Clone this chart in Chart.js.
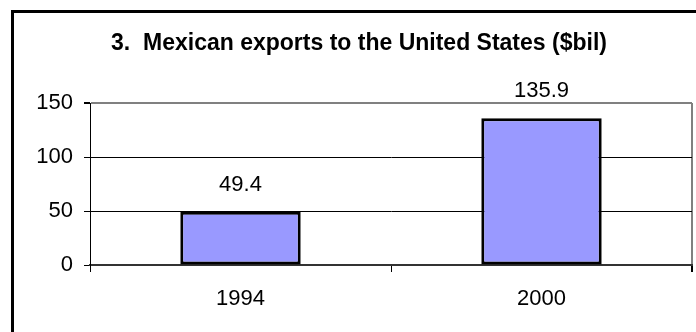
<!DOCTYPE html>
<html>
<head>
<meta charset="utf-8">
<script src="https://cdn.jsdelivr.net/npm/chart.js@4/dist/chart.umd.min.js"></script>
<style>
  html, body { margin: 0; padding: 0; background: #fff; }
  canvas { display: block; }
</style>
</head>
<body>
<canvas id="barChart" width="696" height="332"></canvas>
<script>
var years = ['1994', '2000']; // categories
var exports = [49.4, 135.9]; // Mexican exports, $bil
var yTicks = [0, 50, 100, 150];

var FONT = '"Liberation Sans", Arial, sans-serif';

// outer box around the whole chart
var framePlugin = {
  id: 'frame',
  beforeDraw: function (chart) {
    var ctx = chart.ctx;
    ctx.save();
    ctx.fillStyle = '#fff';
    ctx.fillRect(0, 0, chart.width, chart.height);
    ctx.strokeStyle = '#000';
    ctx.lineWidth = 3;
    ctx.strokeRect(12.5, 11.5, 720, 340);
    ctx.restore();
  }
};

// value above each bar
var valueLabels = {
  id: 'valueLabels',
  afterDatasetsDraw: function (chart) {
    var ctx = chart.ctx;
    var meta = chart.getDatasetMeta(0);
    ctx.save();
    ctx.font = '22px ' + FONT;
    ctx.fillStyle = '#000';
    ctx.textAlign = 'center';
    ctx.textBaseline = 'middle';
    meta.data.forEach(function (bar, i) {
      ctx.fillText(String(exports[i]), bar.x, bar.y - 27);
    });
    ctx.restore();
  }
};

var data = {
  labels: years,
  datasets: [{
    data: exports,
    backgroundColor: '#9999FF',
    borderColor: '#000',
    borderWidth: 3,
    borderSkipped: false,
    barPercentage: 0.4,
    categoryPercentage: 1
  }]
};

var options = {
  responsive: false,
  animation: false,
  layout: { padding: { left: 26, right: 4, top: 0, bottom: 0 } },
  plugins: {
    legend: { display: false },
    tooltip: { enabled: false },
    title: {
      display: true,
      text: '3.  Mexican exports to the United States ($bil)',
      color: '#000',
      font: { family: FONT, size: 23, weight: 'bold', lineHeight: 1.2 },
      padding: { top: 30, bottom: 45.4 }
    }
  },
  scales: {
    x: {
      afterFit: function (s) { s.height = 67; },
      grid: {
        offset: true,
        tickLength: 7,
        color: function (c) { return c.tick ? 'rgba(0,0,0,0)' : '#808080'; },
        lineWidth: function (c) { return c.tick ? 1 : 2; },
        tickColor: '#000'
      },
      border: { color: '#333', width: 2 },
      ticks: { color: '#000', font: { family: FONT, size: 22 }, padding: 14 }
    },
    y: {
      min: 0,
      max: 150,
      afterFit: function (s) { s.width = 64; },
      afterBuildTicks: function (s) {
        s.ticks = yTicks.map(function (v) { return { value: v }; });
      },
      grid: {
        tickLength: 6,
        color: function (c) {
          if (c.tick && c.tick.value === 150) return '#808080';
          if (c.tick && c.tick.value === 0) return 'rgba(0,0,0,0)';
          return '#000';
        },
        lineWidth: function (c) { return c.tick && c.tick.value === 150 ? 2 : 1; },
        tickColor: '#000'
      },
      border: { color: '#000', width: 1 },
      ticks: { color: '#000', font: { family: FONT, size: 22 }, padding: 11 }
    }
  }
};

const ctx = document.getElementById('barChart').getContext('2d');
const barChart = new Chart(ctx, {
  type: 'bar',
  data: data,
  options: options,
  plugins: [framePlugin, valueLabels]
});
</script>
</body>
</html>
